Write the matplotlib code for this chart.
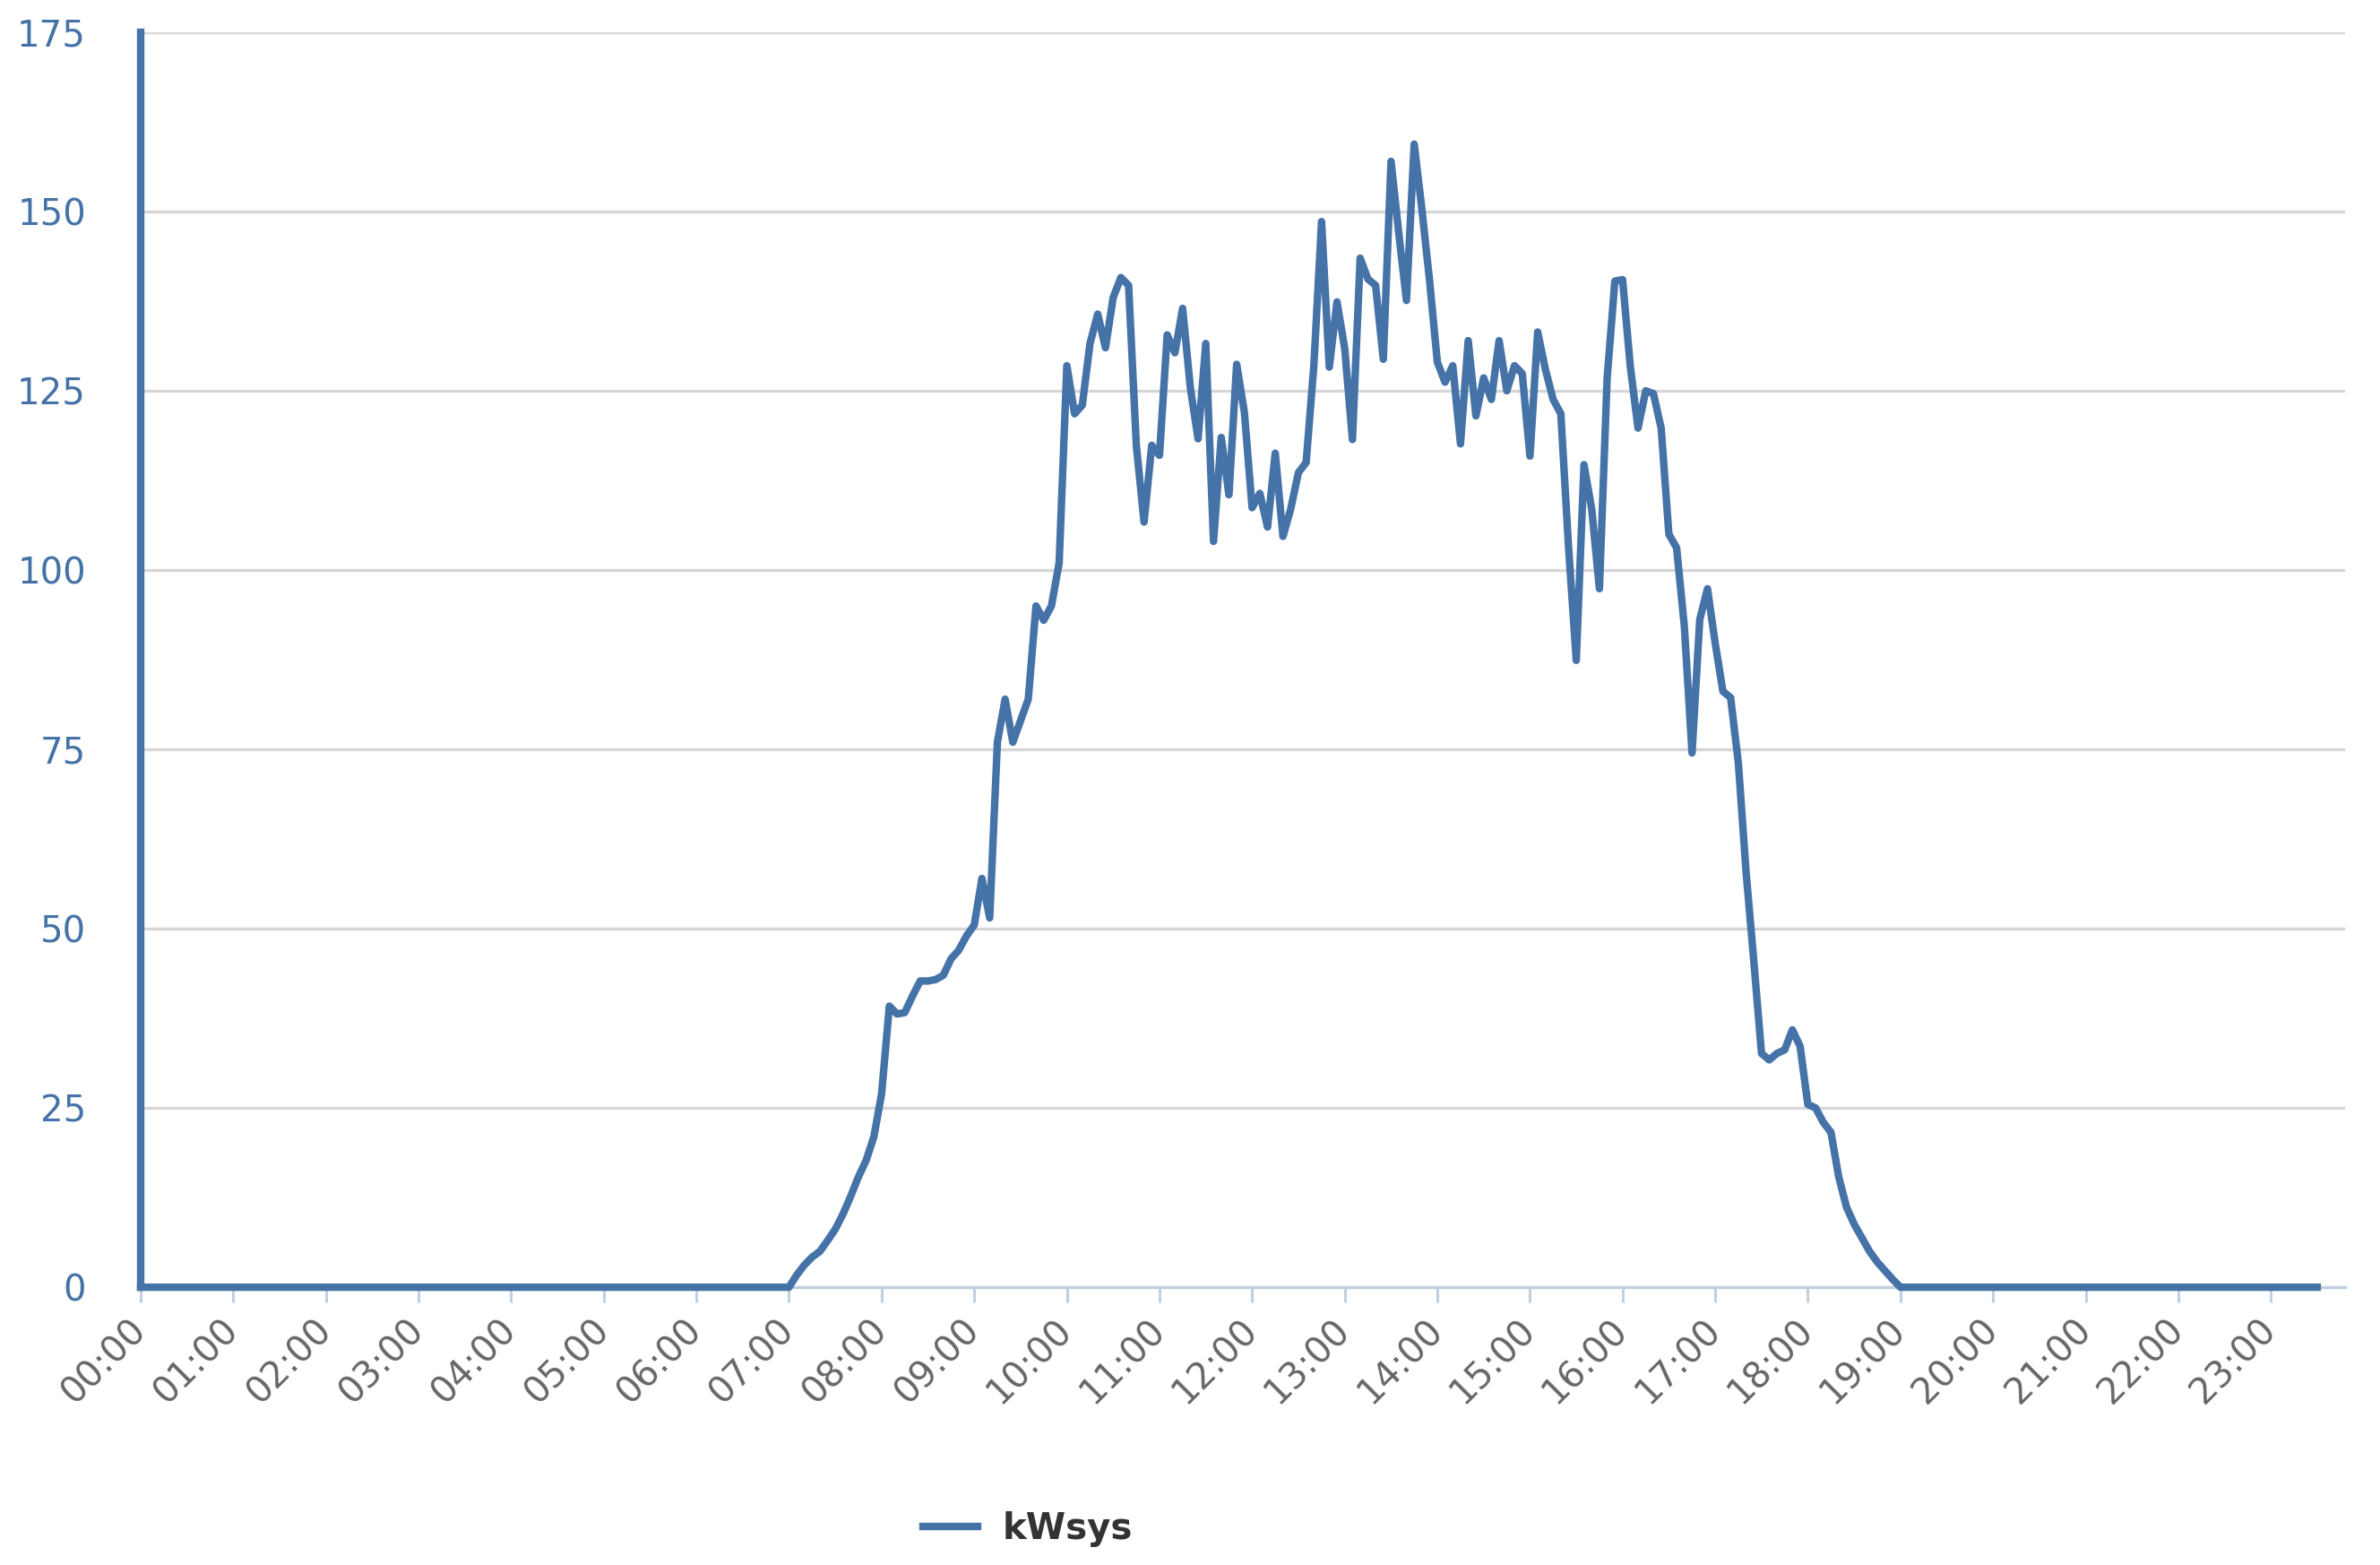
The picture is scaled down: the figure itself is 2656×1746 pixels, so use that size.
import matplotlib.pyplot as plt
import numpy as np

# kWsys readings, one every 5 minutes
night_am = [0.0] * 84  # 00:00 - 06:55
morning = [0.0, 1.7, 3.1, 4.2, 5.0, 6.5, 8.1, 10.2, 12.7, 15.4, 17.7, 21.0,
           27.0, 39.2, 38.1, 38.3, 40.6, 42.7, 42.7, 42.9, 43.5, 45.8, 47.0, 49.0,
           50.5, 57.0, 51.5, 76.0, 82.0, 76.0, 79.0, 82.0, 95.0, 93.0, 95.0, 101.0]
midday = [128.5, 121.8, 123.0, 131.6, 135.7, 131.0, 138.0, 140.8, 139.7, 117.4, 106.7, 117.4,
          116.0, 132.8, 130.3, 136.5, 125.4, 118.3, 131.6, 104.0, 118.5, 110.5, 128.7, 122.0,
          108.7, 110.7, 106.0, 116.3, 104.7, 108.5, 113.6, 115.0, 128.5, 148.6, 128.3, 137.4]
afternoon = [130.9, 118.2, 143.5, 140.6, 139.7, 129.4, 157.0, 147.0, 137.6, 159.4, 150.3, 140.3,
             129.0, 126.2, 128.5, 117.6, 132.0, 121.5, 126.8, 123.8, 132.0, 125.0, 128.5, 127.4,
             115.9, 133.2, 128.0, 123.8, 121.8, 103.2, 87.4, 114.7, 108.5, 97.4, 126.8, 140.3]
evening = [140.5, 128.4, 119.8, 125.0, 124.6, 119.8, 105.0, 103.1, 92.2, 74.5, 93.1, 97.4,
           89.8, 83.1, 82.2, 73.1, 57.9, 45.5, 32.6, 31.7, 32.6, 33.1, 35.9, 33.6,
           25.5, 25.0, 23.0, 21.6, 15.4, 11.2, 8.8, 6.9, 5.0, 3.5, 2.3, 1.1, 0.0]
night_pm = [0.0] * 54  # 19:05 - 23:30

tick_labels = ['00:00', '01:00', '02:00', '03:00', '04:00', '05:00', '06:00', '07:00',
               '08:00', '09:00', '10:00', '11:00', '12:00', '13:00', '14:00', '15:00',
               '16:00', '17:00', '18:00', '19:00', '20:00', '21:00', '22:00', '23:00']
y_ticks = [0, 25, 50, 75, 100, 125, 150, 175]
series_name = 'kWsys'

blue = '#4572a7'

kw = np.array(night_am + morning + midday + afternoon + evening + night_pm)
hours = np.arange(len(kw)) * 5 / 60

fig = plt.figure(figsize=(13.28, 8.73), dpi=200)
ax = fig.add_axes([0.0591, 0.1775, 0.9262, 0.8019])

ax.plot(hours, kw, color=blue, lw=3.0, label=series_name, clip_on=False, zorder=3)

ax.set_xlim(0, 23.8)
ax.set_ylim(0, 175)
ax.set_yticks(y_ticks)
ax.set_xticks(range(len(tick_labels)))
ax.set_xticklabels(tick_labels, rotation=45, ha='right', va='center',
                   rotation_mode='anchor')

ax.yaxis.grid(True, color='#d6d6d6', lw=1.2)
ax.set_axisbelow(True)

for side in ['top', 'right']:
    ax.spines[side].set_visible(False)
ax.spines['left'].set_color(blue)
ax.spines['left'].set_linewidth(3.0)
ax.spines['bottom'].set_color('#c0d0e0')
ax.spines['bottom'].set_linewidth(1.2)

ax.tick_params(axis='x', length=6, width=1.1, color='#c0d0e0',
               labelcolor='#666666', labelsize=14.5, pad=9)
ax.tick_params(axis='y', length=0, labelcolor=blue, labelsize=14.5, pad=22)

leg = fig.legend(loc='center', bbox_to_anchor=(0.432, 0.023), frameon=False,
                 prop={'weight': 'bold', 'size': 14.5}, handlelength=1.5,
                 handletextpad=0.7)
for t in leg.get_texts():
    t.set_color('#333333')

fig.savefig('out.png', dpi=200)
